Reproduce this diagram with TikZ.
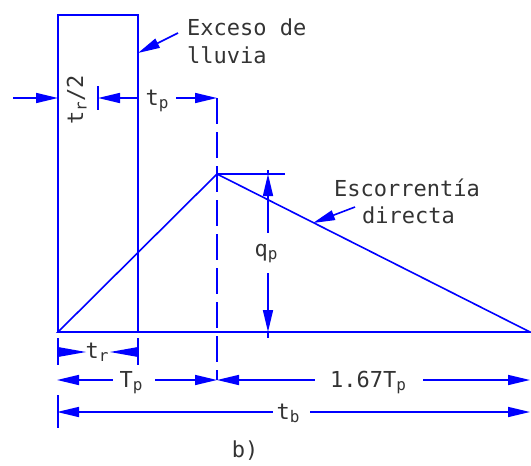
\documentclass[tikz,border=0pt]{standalone}
\usepackage{fontspec}
\setmainfont{DejaVu Sans Mono}
\usetikzlibrary{arrows.meta}
\newcommand\subsc[1]{\raisebox{-3.5pt}{\fontsize{16}{16}\selectfont #1}}
\begin{document}
\begin{tikzpicture}[x=1pt,y=-1pt,
  ln/.style={blue, line width=1.6pt},
  arr/.style={blue, line width=1.6pt, -{Triangle[length=22pt,width=10pt]}},
  sarr/.style={blue, line width=1.6pt, {Triangle[length=22pt,width=10pt]}-},
  wedge/.style={fill=blue},
  lbl/.style={text=black!80, font=\fontsize{22}{26}\selectfont, inner sep=0pt},
]
\useasboundingbox (0,0) rectangle (531,466);
% main geometry
\coordinate (A) at (58,332);
\coordinate (P) at (217,174);
\coordinate (E) at (530,332);
\coordinate (RT) at (138,15);
\draw[ln] (A) rectangle (RT);
\draw[ln] (A) -- (P) -- (E) -- cycle;
\coordinate (PH) at (285,174);
\draw[ln] (P) -- (PH);
\coordinate (DT) at (217,98);
\coordinate (DB) at (217,380);
\draw[ln, dash pattern=on 26pt off 8pt] (DT) -- (DB);

% q_p dimension
\coordinate (Q0) at (268,170);
\coordinate (Q1) at (268,174);
\coordinate (Q2) at (268,233);
\coordinate (Q3) at (268,273);
\coordinate (Q4) at (268,332);
\coordinate (Q5) at (268,338);
\draw[ln] (Q0) -- (Q1);
\draw[sarr] (Q1) -- (Q2);
\draw[arr] (Q3) -- (Q4);
\draw[ln] (Q4) -- (Q5);
\node[lbl, anchor=base] (qp) at (266,256) {q\subsc{p}};

% t_r/2 and t_p row
\coordinate (L0) at (13,98);
\coordinate (L1) at (58,98);
\coordinate (M) at (98,98);
\coordinate (R1) at (138,98);
\coordinate (R2) at (176,98);
\draw[arr] (L0) -- (L1);
\draw[ln] (98,86) -- (98,110);
\draw[arr] (R1) -- (M);
\draw[arr] (R2) -- (DT);
\node[lbl, anchor=base, rotate=90] (tr2) at (83,100) {t\subsc{r}/2};
\node[lbl, anchor=base] (tp) at (157,105) {t\subsc{p}};

% annotations
\node[lbl, anchor=base west] (ex1) at (187,35) {Exceso de};
\node[lbl, anchor=base west] (ex2) at (187,63) {lluvia};
\coordinate (EXa) at (178,33);
\coordinate (EXb) at (138,53);
\draw[arr] (EXa) -- (EXb);
\node[lbl, anchor=base west] (es1) at (334,196) {Escorrentía};
\node[lbl, anchor=base west] (es2) at (362,223) {directa};
\coordinate (ESa) at (355,207);
\coordinate (ESb) at (313,223);
\draw[arr] (ESa) -- (ESb);

% t_r row
\draw[ln] (58,338) -- (58,365);
\draw[ln] (138,338) -- (138,365);
\fill[wedge] (58,347) -- (86,352) -- (58,357) -- cycle;
\fill[wedge] (138,347) -- (110,352) -- (138,357) -- cycle;
\node[lbl, anchor=base] (tr) at (97,358) {t\subsc{r}};

% T_p and 1.67T_p row
\coordinate (T0) at (57,380);
\coordinate (T1) at (113,380);
\coordinate (T2) at (155,380);
\coordinate (T3) at (315,380);
\coordinate (T4) at (423,380);
\coordinate (T5) at (530,380);
\draw[sarr] (T0) -- (T1);
\draw[arr] (T2) -- (DB);
\draw[sarr] (DB) -- (T3);
\draw[arr] (T4) -- (T5);
\node[lbl, anchor=base] (Tp) at (131,387) {T\subsc{p}};
\node[lbl, anchor=base] (Tp2) at (368,387) {1.67T\subsc{p}};

% t_b row
\draw[ln] (58,395) -- (58,428);
\coordinate (B0) at (57,412);
\coordinate (B1) at (273,412);
\coordinate (B2) at (310,412);
\coordinate (B3) at (530,412);
\draw[sarr] (B0) -- (B1);
\draw[arr] (B2) -- (B3);
\node[lbl, anchor=base] (tb) at (288,419) {t\subsc{b}};

\node[lbl, anchor=base] (cap) at (245,457) {b)};
\end{tikzpicture}
\end{document}
